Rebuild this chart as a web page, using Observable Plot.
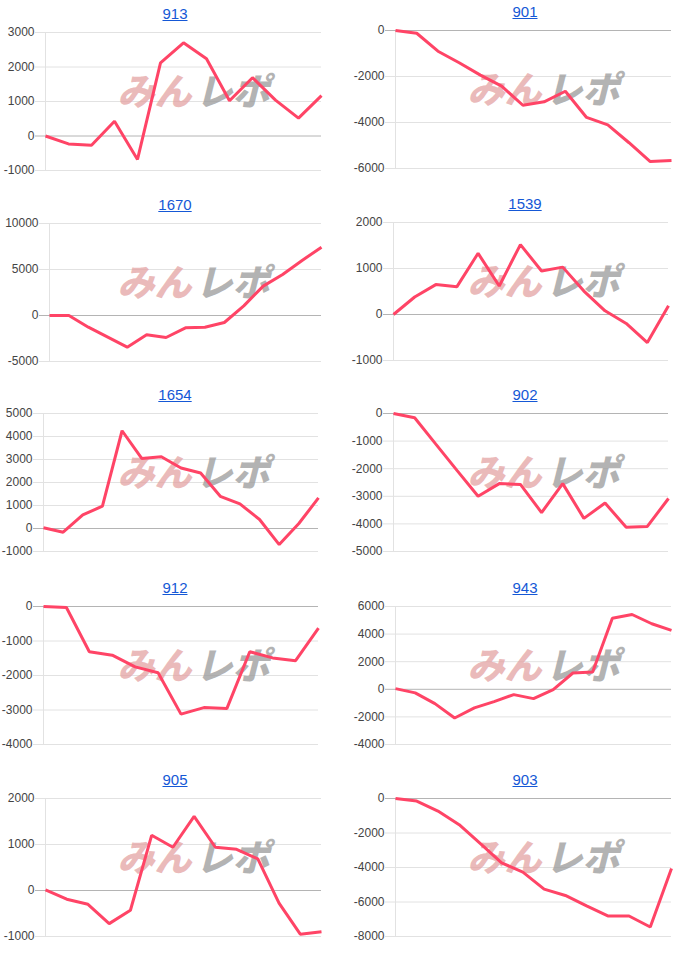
<!DOCTYPE html>
<html><head><meta charset="utf-8">
<script src="https://cdn.jsdelivr.net/npm/d3@7"></script>
<script src="https://cdn.jsdelivr.net/npm/@observablehq/plot@0.6"></script>
<style>
body{margin:0;background:#fff;font-family:Arial,"Liberation Sans",sans-serif;}
#root{position:relative;width:700px;height:960px;overflow:hidden;}
.cell{position:absolute;width:350px;}
.title{height:22px;line-height:22px;text-align:center;font-size:15px;}
.title a{color:#1558d6;text-decoration:underline;}
.cell svg{display:block;}
</style></head><body><div id="root"></div>
<script>
// ---- data ----
const names = ["913","901","1670","1539","1654","902","912","943","905","903"];

const v913  = [0,-230,-270,430,-680,2120,2700,2240,1020,1690,1040,520,1170];
const v901  = [0,-120,-900,-1400,-1940,-2420,-3250,-3100,-2640,-3780,-4100,-4880,-5700,-5650];
const v1670 = [0,0,-1270,-2350,-3440,-2100,-2390,-1340,-1270,-760,1050,3190,4460,5980,7430];
const v1539 = [0,380,650,605,1330,620,1520,945,1030,510,80,-195,-610,190];
const v1654 = [30,-160,590,970,4250,3045,3120,2630,2410,1400,1070,390,-700,216,1330];
const v902  = [0,-155,-1110,-2060,-3000,-2540,-2570,-3590,-2540,-3800,-3245,-4120,-4090,-3080];
const v912  = [0,-30,-1310,-1410,-1750,-1920,-3120,-2930,-2960,-1310,-1490,-1570,-630];
const v943  = [50,-260,-1040,-2080,-1350,-890,-385,-675,-24,1180,1250,5150,5420,4750,4270];
const v905  = [15,-190,-300,-720,-430,1200,940,1610,940,895,686,-275,-950,-895];
const v903  = [0,-150,-730,-1520,-2620,-3730,-4270,-5250,-5620,-6230,-6810,-6810,-7450,-4060];

const t913  = [-1000,0,1000,2000,3000];
const t901  = [-6000,-4000,-2000,0];
const t1670 = [-5000,0,5000,10000];
const t1539 = [-1000,0,1000,2000];
const t1654 = [-1000,0,1000,2000,3000,4000,5000];
const t902  = [-5000,-4000,-3000,-2000,-1000,0];
const t912  = [-4000,-3000,-2000,-1000,0];
const t943  = [-4000,-2000,0,2000,4000,6000];
const t905  = [-1000,0,1000,2000];
const t903  = [-8000,-6000,-4000,-2000,0];

const seriesList = [v913,v901,v1670,v1539,v1654,v902,v912,v943,v905,v903];
const tickList   = [t913,t901,t1670,t1539,t1654,t902,t912,t943,t905,t903];
const watermark  = ["みん","レポ"];

// ---- layout (panel placement only) ----
const layout = [
  {x:0,   L:45, R:321, top:31.7},
  {x:350, L:395,R:671, top:29.5},
  {x:0,   L:49, R:321, top:222.5},
  {x:350, L:393,R:668, top:221.5},
  {x:0,   L:43, R:318, top:413.3},
  {x:350, L:393,R:668, top:413.3},
  {x:0,   L:43, R:318, top:606},
  {x:350, L:395,R:671, top:606},
  {x:0,   L:45, R:321, top:798},
  {x:350, L:395,R:671, top:798}
];
const plotH = 138, mTop = 7, mBottom = 10;
const root = document.getElementById("root");

names.forEach((name, k) => {
  const lay = layout[k];
  const vals = seriesList[k];
  const ticks = tickList[k];
  const data = vals.map((v, i) => ({i, v}));
  const cell = document.createElement("div");
  cell.className = "cell";
  cell.style.left = lay.x + "px";
  cell.style.top = (lay.top - 29) + "px";
  const title = document.createElement("div");
  title.className = "title";
  title.innerHTML = `<a href="#">${name}</a>`;
  cell.appendChild(title);

  const mL = lay.L - lay.x, mR = lay.x + 350 - lay.R;
  const frameCx = (lay.L + lay.R) / 2 - lay.x;
  const wdx = 193 - frameCx;
  const wdy = -8;
  const hasZero = ticks.includes(0);

  const chart = Plot.plot({
    width: 350, height: mTop + plotH + mBottom,
    marginLeft: mL, marginRight: mR, marginTop: mTop, marginBottom: mBottom,
    x: {domain: [0, vals.length - 1], axis: null},
    y: {domain: [ticks[0], ticks[ticks.length - 1]], axis: null},
    style: {fontFamily: "Arial, 'Liberation Sans', sans-serif", fontSize: "12px", color: "#444", background: "transparent", overflow: "visible"},
    marks: [
      Plot.ruleY(ticks.filter(t => t !== 0), {stroke: "#e2e2e2", strokeWidth: 1, insetLeft: -10}),
      Plot.ruleX([0], {stroke: "#e2e2e2", strokeWidth: 1}),
      Plot.text([watermark[0]], {frameAnchor: "middle", text: d => d, dx: wdx - 2, dy: wdy, textAnchor: "end",
        fontSize: 37, fontWeight: 900, fontStyle: "italic", fontFamily: "'Noto Sans CJK JP', sans-serif", fill: "#e4a3a3", fillOpacity: 0.75}),
      Plot.text([watermark[1]], {frameAnchor: "middle", text: d => d, dx: wdx + 2, dy: wdy, textAnchor: "start",
        fontSize: 37, fontWeight: 900, fontStyle: "italic", fontFamily: "'Noto Sans CJK JP', sans-serif", fill: "#9a9a9a", fillOpacity: 0.75}),
      hasZero ? Plot.ruleY([0], {stroke: "#b4b4b4", strokeWidth: 1, insetLeft: -10}) : null,
      Plot.axisY(ticks, {tickSize: 0, tickPadding: 11, tickFormat: d => String(d), label: null, fill: "#444", fontSize: 12}),
      Plot.line(data, {x: "i", y: "v", stroke: "#ff4466", strokeWidth: 3, strokeLinejoin: "miter", strokeLinecap: "butt"})
    ]
  });
  cell.appendChild(chart);
  root.appendChild(cell);
});
</script>
</body></html>
